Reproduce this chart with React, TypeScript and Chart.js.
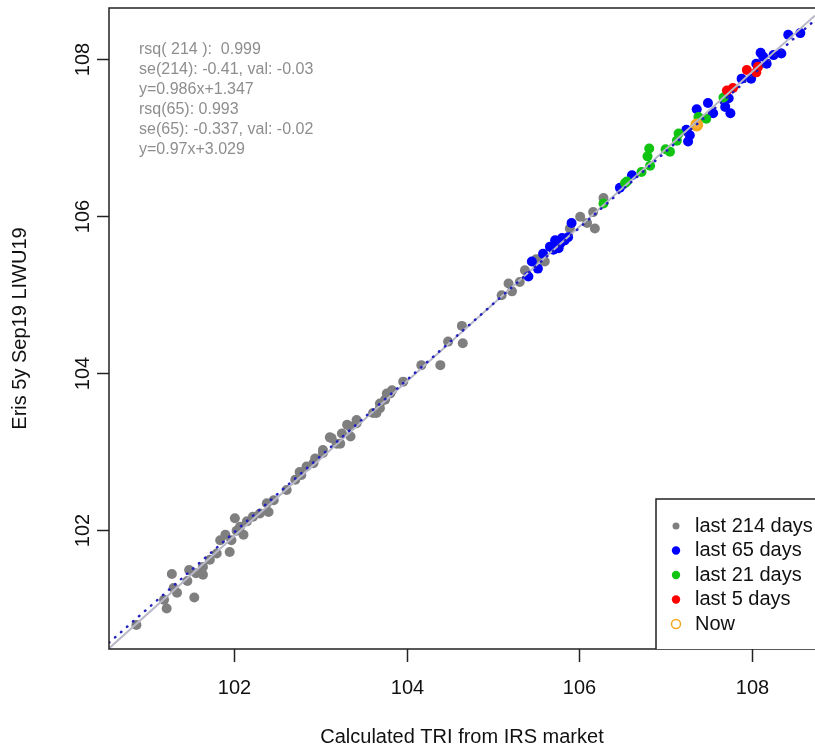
import React, { useEffect, useRef } from "react";
import { Chart, registerables } from "chart.js";

Chart.register(...registerables);

// Axis ranges and tick labels
const xLimits = [100.552, 108.73];
const yLimits = [100.484, 108.65];
const xTicks = [102, 104, 106, 108];
const yTicks = [102, 104, 106, 108];
const xTitle = "Calculated TRI from IRS market";
const yTitle = "Eris 5y Sep19 LIWU19";

// Observations: [calculated TRI, Eris futures price]
const last214: number[][] = [
  [100.87, 100.79], [101.19, 101.11], [101.22, 101.0], [101.28, 101.44], [101.3, 101.26],
  [101.34, 101.2], [101.46, 101.35], [101.48, 101.49], [101.54, 101.14], [101.56, 101.45],
  [101.64, 101.43], [101.64, 101.53], [101.72, 101.62], [101.8, 101.7], [101.84, 101.87],
  [101.9, 101.94], [101.95, 101.72], [101.97, 101.87], [102.01, 102.15], [102.03, 101.99],
  [102.07, 102.04], [102.11, 101.94], [102.15, 102.11], [102.22, 102.17], [102.3, 102.21],
  [102.38, 102.34], [102.4, 102.23], [102.46, 102.38], [102.61, 102.51], [102.71, 102.64],
  [102.76, 102.74], [102.78, 102.7], [102.84, 102.81], [102.92, 102.85], [102.94, 102.91],
  [103.03, 102.98], [103.03, 103.02], [103.11, 103.18], [103.13, 103.17], [103.19, 103.1],
  [103.23, 103.1], [103.25, 103.23], [103.31, 103.34], [103.34, 103.32], [103.35, 103.19],
  [103.42, 103.36], [103.42, 103.4], [103.61, 103.49], [103.65, 103.49], [103.69, 103.61],
  [103.69, 103.55], [103.75, 103.66], [103.77, 103.74], [103.81, 103.74], [103.83, 103.78],
  [103.96, 103.89], [104.17, 104.1], [104.39, 104.1], [104.48, 104.4], [104.65, 104.38],
  [104.64, 104.6], [105.1, 104.99], [105.18, 105.14], [105.22, 105.04], [105.31, 105.16],
  [105.37, 105.31], [105.5, 105.45], [105.6, 105.42], [105.7, 105.62], [105.8, 105.7],
  [105.89, 105.84], [106.01, 105.99], [106.09, 105.91], [106.18, 105.84], [106.16, 106.05],
  [106.28, 106.23],
];
const last65: number[][] = [
  [105.41, 105.23], [105.45, 105.42], [105.52, 105.33], [105.58, 105.52], [105.66, 105.61],
  [105.7, 105.57], [105.72, 105.69], [105.76, 105.59], [105.78, 105.65], [105.8, 105.72],
  [105.83, 105.69], [105.87, 105.73], [105.91, 105.91], [106.47, 106.36], [106.61, 106.52],
  [107.24, 107.1], [107.26, 106.95], [107.28, 107.03], [107.36, 107.36], [107.49, 107.44],
  [107.55, 107.31], [107.69, 107.39], [107.73, 107.5], [107.75, 107.31], [107.88, 107.75],
  [107.99, 107.75], [108.05, 107.94], [108.1, 108.08], [108.13, 108.03], [108.17, 107.94],
  [108.25, 108.05], [108.34, 108.07], [108.42, 108.31], [108.56, 108.33],
];
const last21: number[][] = [
  [106.28, 106.16], [106.53, 106.42], [106.55, 106.44], [106.72, 106.56], [106.82, 106.64],
  [106.79, 106.76], [106.81, 106.86], [107.0, 106.85], [107.05, 106.82], [107.13, 106.96],
  [107.15, 107.05], [107.38, 107.26], [107.47, 107.24], [107.67, 107.51],
];
const last5: number[][] = [
  [107.71, 107.6], [107.78, 107.63], [107.94, 107.86], [108.05, 107.83], [108.07, 107.9],
];
const now: number[][] = [[107.36, 107.16]];

// Fitted lines (slope, intercept)
const fit214 = [0.986, 1.347];
const fit65 = [0.97, 3.029];

const statText = [
  "rsq( 214 ):  0.999",
  "se(214): -0.41, val: -0.03",
  "y=0.986x+1.347",
  "rsq(65): 0.993",
  "se(65): -0.337, val: -0.02",
  "y=0.97x+3.029",
];

const legendLabels = ["last 214 days", "last 65 days", "last 21 days", "last 5 days", "Now"];
const seriesColors = ["#7f7f7f", "#0000ff", "#11c411", "#ff0000", "#f5a623"];

const FONT = "'Liberation Sans', Arial, sans-serif";

const toPoints = (rows: number[][]) => rows.map(([x, y]) => ({ x, y }));
const fitPoints = (fit: number[]) =>
  xLimits.map((x) => ({ x, y: fit[0] * x + fit[1] }));

// Draws the R-style box, axes, annotation text and legend
const basePlotPlugin = {
  id: "basePlot",
  afterDraw(chart: any) {
    const { ctx, chartArea: a, scales } = chart;
    const xs = scales.x;
    const ys = scales.y;
    ctx.save();

    // box (right side lies beyond the canvas)
    ctx.strokeStyle = "#222";
    ctx.lineWidth = 1.5;
    ctx.beginPath();
    ctx.moveTo(a.right + 10, a.top);
    ctx.lineTo(a.left, a.top);
    ctx.lineTo(a.left, a.bottom);
    ctx.lineTo(a.right + 10, a.bottom);
    ctx.stroke();

    // x axis ticks and labels
    ctx.fillStyle = "#111";
    ctx.font = `20px ${FONT}`;
    ctx.textAlign = "center";
    ctx.textBaseline = "middle";
    xTicks.forEach((t) => {
      const px = Math.round(xs.getPixelForValue(t)) + 0.5;
      ctx.beginPath();
      ctx.moveTo(px, a.bottom);
      ctx.lineTo(px, a.bottom + 13);
      ctx.stroke();
      ctx.fillText(String(t), px, a.bottom + 39);
    });
    ctx.fillText(xTitle, (a.left + a.right) / 2, a.bottom + 88);

    // y axis ticks and rotated labels
    yTicks.forEach((t) => {
      const py = Math.round(ys.getPixelForValue(t)) + 0.5;
      ctx.beginPath();
      ctx.moveTo(a.left, py);
      ctx.lineTo(a.left - 12, py);
      ctx.stroke();
      ctx.save();
      ctx.translate(a.left - 26, py);
      ctx.rotate(-Math.PI / 2);
      ctx.fillText(String(t), 0, 0);
      ctx.restore();
    });
    ctx.save();
    ctx.translate(a.left - 89, (a.top + a.bottom) / 2);
    ctx.rotate(-Math.PI / 2);
    ctx.fillText(yTitle, 0, 0);
    ctx.restore();

    // regression statistics
    ctx.fillStyle = "#8e8e8e";
    ctx.font = `16px ${FONT}`;
    ctx.textAlign = "left";
    statText.forEach((line, i) => {
      ctx.fillText(line, a.left + 30, a.top + 42 + i * 20);
    });

    // legend
    const boxLeft = a.right - 159;
    const boxTop = a.bottom - 150;
    ctx.fillStyle = "#fff";
    ctx.fillRect(boxLeft, boxTop, a.right - boxLeft + 10, a.bottom - boxTop);
    ctx.strokeStyle = "#222";
    ctx.lineWidth = 1.5;
    ctx.beginPath();
    ctx.moveTo(a.right + 10, boxTop);
    ctx.lineTo(boxLeft, boxTop);
    ctx.lineTo(boxLeft, a.bottom);
    ctx.stroke();
    ctx.font = `20px ${FONT}`;
    legendLabels.forEach((label, i) => {
      const cy = boxTop + 27 + i * 24.5;
      const cx = boxLeft + 20;
      ctx.beginPath();
      if (i === legendLabels.length - 1) {
        ctx.arc(cx, cy, 4.5, 0, Math.PI * 2);
        ctx.strokeStyle = seriesColors[i];
        ctx.lineWidth = 1.5;
        ctx.stroke();
      } else {
        ctx.arc(cx, cy, i === 0 ? 3.5 : 4.2, 0, Math.PI * 2);
        ctx.fillStyle = seriesColors[i];
        ctx.fill();
      }
      ctx.fillStyle = "#111";
      ctx.fillText(label, boxLeft + 39, cy);
    });

    ctx.restore();
  },
};

export default function App() {
  const canvasRef = useRef<HTMLCanvasElement | null>(null);

  useEffect(() => {
    if (!canvasRef.current) return;
    const pointSet = (label: string, rows: number[][], color: string, order: number) => ({
      type: "scatter" as const,
      label,
      data: toPoints(rows),
      backgroundColor: color,
      borderColor: color,
      borderWidth: 0,
      pointRadius: 5,
      order,
    });
    const chart = new Chart(canvasRef.current, {
      type: "scatter",
      data: {
        datasets: [
          {
            type: "line" as const,
            label: "fit 65",
            data: fitPoints(fit65),
            borderColor: "#2020c0",
            borderWidth: 2.5,
            borderDash: [0.5, 7.5],
            borderCapStyle: "round",
            pointRadius: 0,
            fill: false,
            order: 0,
            clip: 0,
          } as any,
          {
            type: "line" as const,
            label: "fit 214",
            data: fitPoints(fit214),
            borderColor: "#b8b8c6",
            borderWidth: 2,
            pointRadius: 0,
            fill: false,
            order: 1,
            clip: 0,
          } as any,
          {
            type: "scatter" as const,
            label: "Now",
            data: toPoints(now),
            backgroundColor: "rgba(245,166,35,0.9)",
            borderColor: seriesColors[4],
            borderWidth: 3,
            pointRadius: 5,
            order: 2,
          },
          pointSet("last 5 days", last5, seriesColors[3], 3),
          pointSet("last 21 days", last21, seriesColors[2], 4),
          pointSet("last 65 days", last65, seriesColors[1], 5),
          pointSet("last 214 days", last214, seriesColors[0], 6),
        ],
      },
      options: {
        responsive: false,
        animation: false,
        devicePixelRatio: 1,
        layout: { autoPadding: false, padding: { left: 109, top: 8, right: 0, bottom: 101 } },
        plugins: { legend: { display: false }, tooltip: { enabled: false } },
        scales: {
          x: { type: "linear", min: xLimits[0], max: xLimits[1], display: false },
          y: { type: "linear", min: yLimits[0], max: yLimits[1], display: false },
        },
      } as any,
      plugins: [basePlotPlugin],
    });
    return () => chart.destroy();
  }, []);

  return (
    <div
      style={{
        position: "fixed",
        left: 0,
        top: 0,
        width: 815,
        height: 750,
        overflow: "hidden",
        background: "#fff",
      }}
    >
      <canvas ref={canvasRef} width={815} height={750} style={{ display: "block" }} />
    </div>
  );
}
